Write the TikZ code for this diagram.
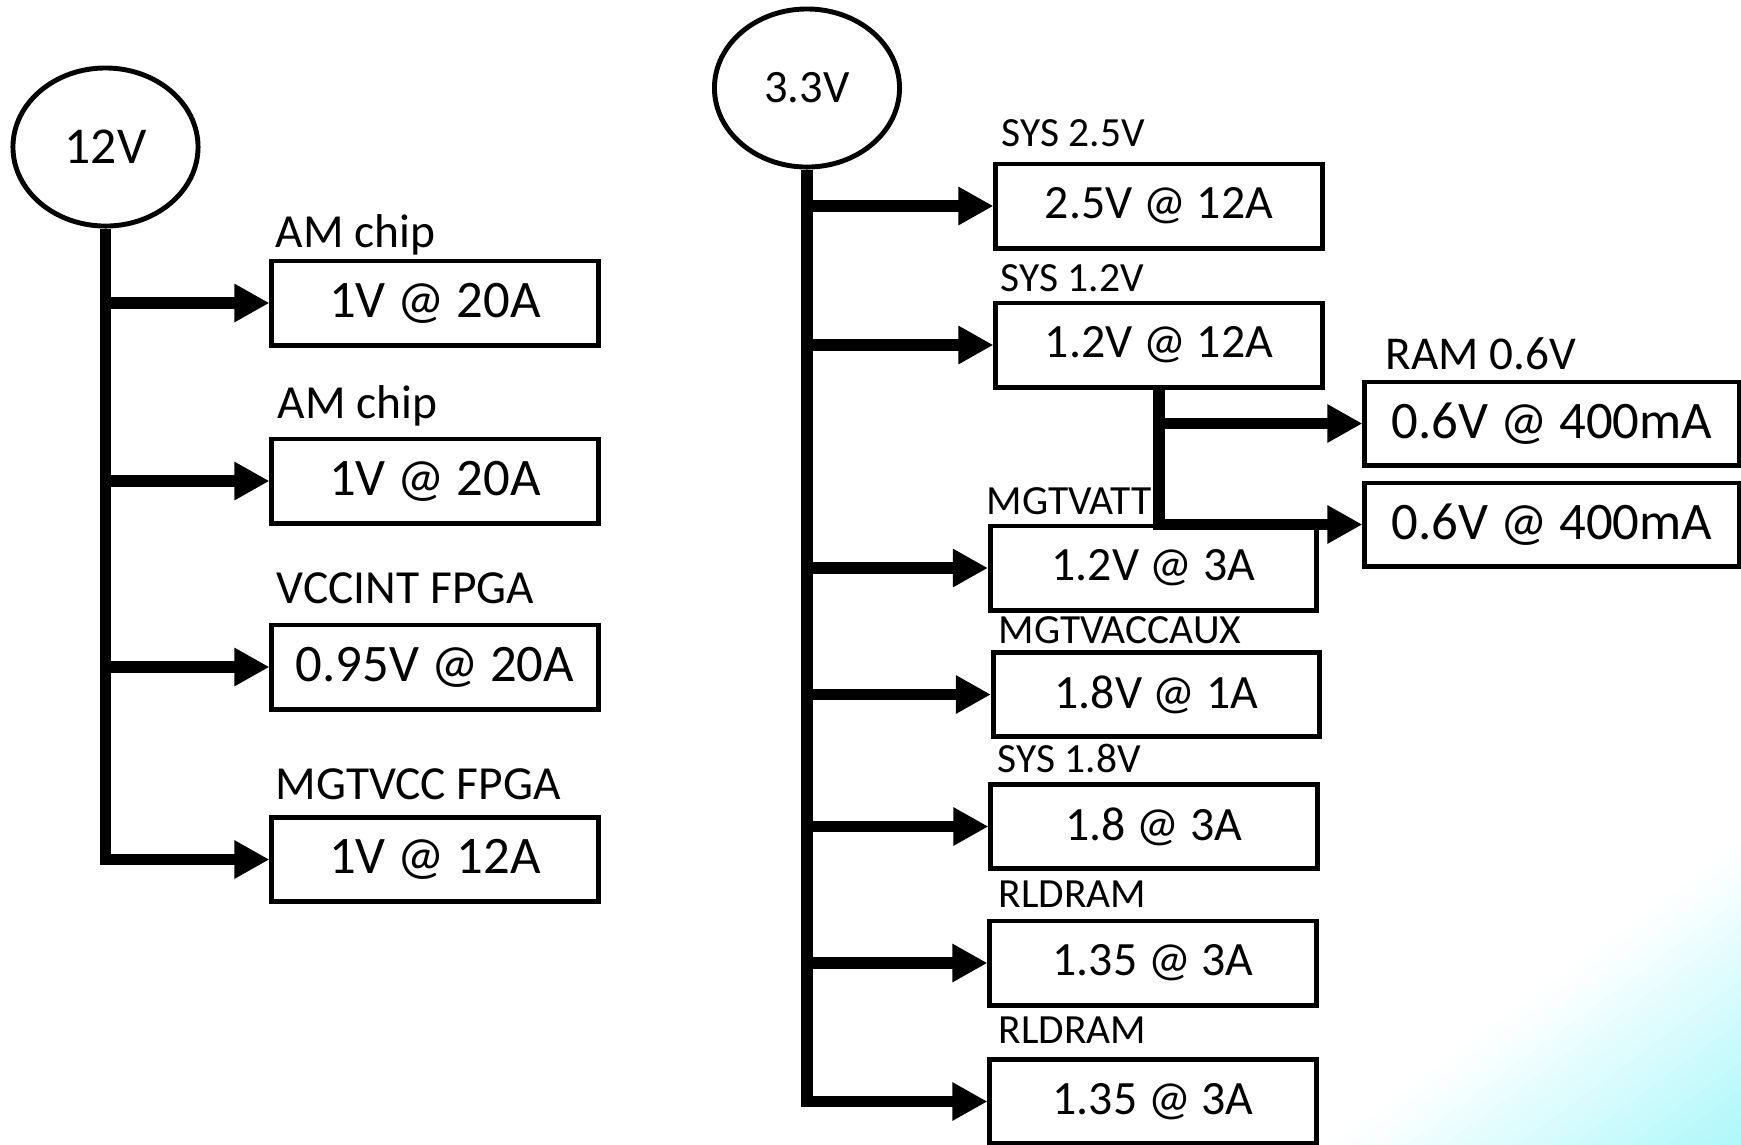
\documentclass[tikz,border=0pt]{standalone}
\usepackage{fontspec}
\setmainfont{Carlito}
\usepackage{xcolor}
\definecolor{raildraw}{rgb}{0,0,0}
\definecolor{boxdraw}{rgb}{0,0,0}
\definecolor{cornercyan}{rgb}{0.68,0.97,0.98}
\usepackage{tikz}
\usetikzlibrary{positioning,arrows.meta,shapes.geometric}

\begin{document}
\begin{tikzpicture}[
  x=0.01cm, y=-0.01cm,
  >={Triangle[length=0.35cm,width=0.36cm]},
  every node/.style={align=center, inner sep=0pt},
  srcnode/.style  ={ellipse, draw=boxdraw, line width=1.4pt, minimum width=1.85cm, minimum height=1.58cm},
  bigbox/.style   ={rectangle, draw=boxdraw, line width=1.4pt, minimum width=3.26cm, minimum height=0.84cm, font=\fontsize{15}{18}\selectfont},
  railbox/.style  ={rectangle, draw=boxdraw, line width=1.4pt, minimum width=3.26cm, minimum height=0.84cm, font=\fontsize{13.6}{16}\selectfont},
  rambox/.style   ={rectangle, draw=boxdraw, line width=1.4pt, minimum width=3.74cm, minimum height=0.83cm, font=\fontsize{15}{18}\selectfont},
  bigtag/.style   ={anchor=base west, font=\fontsize{13.5}{16}\selectfont},
  railtag/.style  ={anchor=base west, font=\fontsize{11.8}{14}\selectfont},
  rail/.style     ={->, line width=0.115cm, draw=raildraw}
]
\useasboundingbox (0,0) rectangle (1741,1144);

% pale cyan wash in the lower right corner
\begin{scope}
  \clip (0,0) rectangle (1741,1144);
  \foreach \i in {0,...,21}{
    \pgfmathsetmacro\ua{11*\i}
    \pgfmathsetmacro\ub{11*\i+12}
    \pgfmathtruncatemacro\pct{100*(\i+0.5)/22}
    \fill[cornercyan!\pct!white]
      ({1741+0.594*\ua-500},{843+0.805*\ua+369}) -- ({1741+0.594*\ua+500},{843+0.805*\ua-369}) --
      ({1741+0.594*\ub+500},{843+0.805*\ub-369}) -- ({1741+0.594*\ub-500},{843+0.805*\ub+369}) -- cycle;
  }
\end{scope}

\node[srcnode, font=\fontsize{14.7}{17}\selectfont] (v12) at (105.5,147) {12V};
\node[srcnode, font=\fontsize{13.2}{16}\selectfont] (v33) at (807,88) {3.3V};

\node[bigbox] (am1)  at (435,303)   {1V @ 20A};
\node[bigbox] (am2)  at (435,481)   {1V @ 20A};
\node[bigbox] (vint) at (435,667)   {0.95V @ 20A};
\node[bigbox] (mgt)  at (435,859.5) {1V @ 12A};

\node[bigtag] (am1tag)  at (275,247)   {AM chip};
\node[bigtag] (am2tag)  at (277,418.5) {AM chip};
\node[bigtag] (vinttag) at (276,603)   {VCCINT FPGA};
\node[bigtag] (mgttag)  at (275,799)   {MGTVCC FPGA};

\node[railbox] (sys25) at (1159,206)    {2.5V @ 12A};
\node[railbox] (sys12) at (1159,345)    {1.2V @ 12A};
\node[railbox] (vatt)  at (1153.5,568)  {1.2V @ 3A};
\node[railbox] (vaux)  at (1156.5,694.5){1.8V @ 1A};
\node[railbox] (sys18) at (1154,826.5)  {1.8 @ 3A};
\node[railbox] (rld1)  at (1153,963)    {1.35 @ 3A};
\node[railbox] (rld2)  at (1153,1101.5) {1.35 @ 3A};

\node[railtag] (sys25tag) at (1001,146.5) {SYS 2.5V};
\node[railtag] (sys12tag) at (1000,291)   {SYS 1.2V};
\node[railtag] (vatttag)  at (986,514.5)  {MGTVATT};
\node[railtag] (vauxtag)  at (998,643)    {MGTVACCAUX};
\node[railtag] (sys18tag) at (997,772.5)  {SYS 1.8V};
\node[railtag] (rld1tag)  at (998,907)    {RLDRAM};
\node[railtag] (rld2tag)  at (998,1043.5) {RLDRAM};

\node[rambox] (ram1) at (1552,423.5) {0.6V @ 400mA};
\node[rambox] (ram2) at (1552,524.5) {0.6V @ 400mA};
\node[bigtag, font=\fontsize{13.4}{16}\selectfont] (ramtag) at (1385,369) {RAM 0.6V};

% 12V rail
\draw[rail] (v12.south) |- (mgt.west);
\draw[rail] (v12.south |- am1.west)  -- (am1.west);
\draw[rail] (v12.south |- am2.west)  -- (am2.west);
\draw[rail] (v12.south |- vint.west) -- (vint.west);

% 3.3V rail
\draw[rail] (v33.south) |- (rld2.west);
\draw[rail] (v33.south |- sys25.west) -- (sys25.west);
\draw[rail] (v33.south |- sys12.west) -- (sys12.west);
\draw[rail] (v33.south |- vatt.west)  -- (vatt.west);
\draw[rail] (v33.south |- vaux.west)  -- (vaux.west);
\draw[rail] (v33.south |- sys18.west) -- (sys18.west);
\draw[rail] (v33.south |- rld1.west)  -- (rld1.west);

% RAM supplies hang off SYS 1.2V
\draw[rail] (sys12.south) |- (ram2.west);
\draw[rail] (sys12.south |- ram1.west) -- (ram1.west);

\end{tikzpicture}
\end{document}
